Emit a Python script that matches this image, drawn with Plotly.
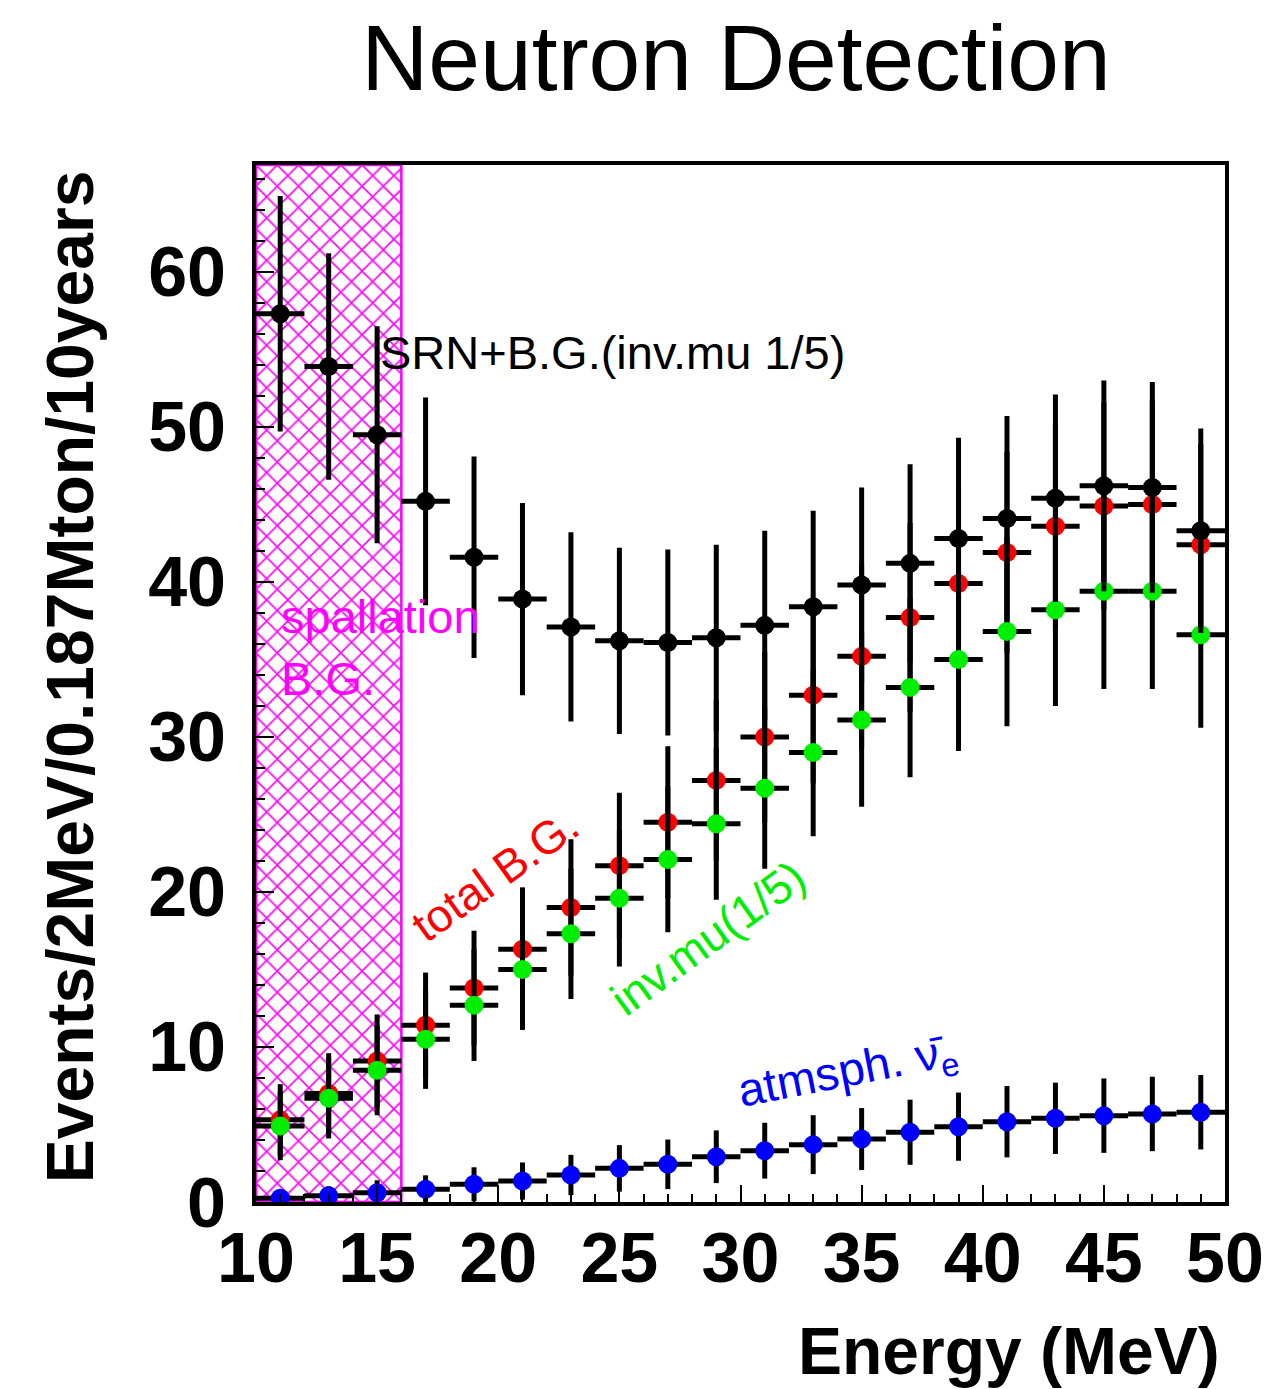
import plotly.graph_objects as go

# ---------------- data ----------------
energy = [11, 13, 15, 17, 19, 21, 23, 25, 27, 29, 31, 33, 35, 37, 39, 41, 43, 45, 47, 49]
bin_half_width = [1] * 20

srn_bg = [57.3, 53.9, 49.5, 45.2, 41.6, 38.9, 37.1, 36.2, 36.1, 36.4,
          37.2, 38.4, 39.8, 41.2, 42.8, 44.1, 45.4, 46.2, 46.1, 43.3]
srn_bg_err = [7.6, 7.3, 7.0, 6.7, 6.5, 6.2, 6.1, 6.0, 6.0, 6.0,
              6.1, 6.2, 6.3, 6.4, 6.5, 6.6, 6.7, 6.8, 6.8, 6.6]

total_bg = [5.3, 7.0, 9.1, 11.4, 13.8, 16.3, 19.0, 21.7, 24.5, 27.2,
            30.0, 32.7, 35.2, 37.7, 39.9, 41.9, 43.6, 44.9, 45.0, 42.4]
total_bg_err = [2.3, 2.6, 3.0, 3.4, 3.7, 4.0, 4.4, 4.7, 4.9, 5.2,
                5.5, 5.7, 5.9, 6.1, 6.3, 6.5, 6.6, 6.7, 6.7, 6.5]

inv_mu = [4.9, 6.7, 8.5, 10.5, 12.7, 15.0, 17.3, 19.6, 22.1, 24.4,
          26.7, 29.0, 31.1, 33.2, 35.0, 36.8, 38.2, 39.4, 39.4, 36.6]
inv_mu_err = [2.2, 2.6, 2.9, 3.2, 3.6, 3.9, 4.2, 4.4, 4.7, 4.9,
              5.2, 5.4, 5.6, 5.8, 5.9, 6.1, 6.2, 6.3, 6.3, 6.0]

atm_nue = [0.24, 0.41, 0.60, 0.82, 1.14, 1.35, 1.74, 2.17, 2.43, 2.92,
           3.31, 3.70, 4.06, 4.50, 4.86, 5.18, 5.40, 5.57, 5.68, 5.79]
atm_nue_err = [0.5, 0.6, 0.8, 0.9, 1.1, 1.2, 1.3, 1.5, 1.6, 1.7,
               1.8, 1.9, 2.0, 2.1, 2.2, 2.3, 2.3, 2.4, 2.4, 2.4]

spallation_range = [10, 16]
x_range = [10, 50]
y_range = [0, 66.9]
x_ticks = [10, 15, 20, 25, 30, 35, 40, 45, 50]
y_ticks = [0, 10, 20, 30, 40, 50, 60]

FONT = "Liberation Sans"

fig = go.Figure()

# spallation hatched region
fig.add_trace(go.Bar(
    x=[(spallation_range[0] + spallation_range[1]) / 2],
    y=[y_range[1]],
    width=[spallation_range[1] - spallation_range[0]],
    marker=dict(color="#ff00ff",
                line=dict(color="#ff00ff", width=2.5),
                pattern=dict(shape="x", size=15, solidity=0.2,
                             fillmode="replace", bgcolor="white", fgcolor="#ff00ff")),
    showlegend=False, hoverinfo="skip",
))


def series(y, err, color):
    return go.Scatter(
        x=energy, y=y, mode="markers",
        marker=dict(color=color, size=19, line=dict(width=0)),
        error_y=dict(type="data", array=err, visible=True, color="black",
                     thickness=5, width=0),
        error_x=dict(type="data", array=bin_half_width, visible=True, color="black",
                     thickness=5, width=0),
        showlegend=False,
    )


fig.add_trace(series(total_bg, total_bg_err, "#ff0000"))
fig.add_trace(series(inv_mu, inv_mu_err, "#00ee00"))
fig.add_trace(series(srn_bg, srn_bg_err, "black"))
fig.add_trace(series(atm_nue, atm_nue_err, "#0000ff"))

ann_font = 47
annotations = [
    dict(x=15.04, y=54.8, text="SRN+B.G.(inv.mu 1/5)", xanchor="left", yanchor="middle",
         font=dict(family=FONT, size=ann_font, color="black")),
    dict(x=10.95, y=37.8, text="spallation", xanchor="left", yanchor="middle",
         font=dict(family=FONT, size=ann_font, color="#ff00ff")),
    dict(x=10.95, y=33.8, text="B.G.", xanchor="left", yanchor="middle",
         font=dict(family=FONT, size=ann_font, color="#ff00ff")),
    dict(x=19.87, y=21.1, text="total B.G.", textangle=-35.5, xanchor="center", yanchor="middle",
         font=dict(family=FONT, size=46, color="#ff0000")),
    dict(x=28.66, y=17.0, text="inv.mu(1/5)", textangle=-36, xanchor="center", yanchor="middle",
         font=dict(family=FONT, size=46, color="#00ee00")),
    dict(x=34.45, y=8.3, text="atmsph. \u03bd\u0304<sub>e</sub>", textangle=-11, xanchor="center",
         yanchor="middle", font=dict(family=FONT, size=ann_font, color="#0000ff")),
    # axis titles
    dict(xref="paper", yref="paper", x=-0.192, y=0.507, text="Events/2MeV/0.187Mton/10years",
         textangle=-90, xanchor="center", yanchor="middle", showarrow=False,
         font=dict(family=FONT, size=66, color="black", weight="bold")),
    dict(xref="paper", yref="paper", x=0.997, y=-0.144, text="Energy (MeV)",
         xanchor="right", yanchor="middle", showarrow=False,
         font=dict(family=FONT, size=66, color="black", weight="bold")),
]
for a in annotations:
    a.setdefault("showarrow", False)

axis_common = dict(
    showline=True, linewidth=4, linecolor="black", mirror=True,
    showgrid=False, zeroline=False,
    ticks="inside", tickcolor="black", tickwidth=2,
    tickfont=dict(family=FONT, size=70, color="black", weight="bold"),
)

fig.update_layout(
    width=1277, height=1389, autosize=False,
    margin=dict(l=256, r=52, t=165, b=187),
    paper_bgcolor="white", plot_bgcolor="white",
    barmode="overlay",
    title=dict(text="Neutron Detection", xref="container", yref="container",
               x=736 / 1277, y=1 - 57 / 1389, xanchor="center", yanchor="middle",
               font=dict(family=FONT, size=93, color="black")),
    annotations=annotations,
    xaxis=dict(range=x_range, tickvals=x_ticks, ticklen=17, ticklabelstandoff=-8,
               minor=dict(dtick=1, ticklen=8, tickwidth=2, tickcolor="black", ticks="inside"),
               **axis_common),
    yaxis=dict(range=y_range, tickvals=y_ticks, ticklen=18, ticklabelstandoff=12,
               minor=dict(dtick=2, ticklen=9, tickwidth=2, tickcolor="black", ticks="inside"),
               **axis_common),
)

fig.write_html("out.html")
